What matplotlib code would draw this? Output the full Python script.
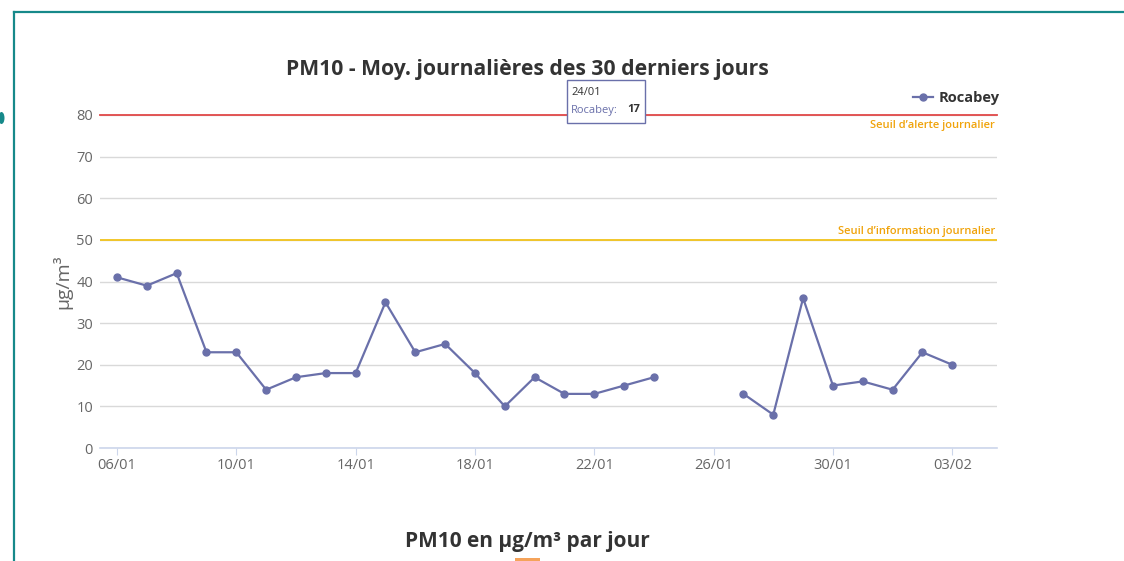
import numpy as np
import matplotlib
matplotlib.use("Agg")
import matplotlib.pyplot as plt
from matplotlib.lines import Line2D
from matplotlib.patches import Rectangle, Ellipse

# ---- data ----
dates = ["06/01", "07/01", "08/01", "09/01", "10/01", "11/01", "12/01", "13/01",
         "14/01", "15/01", "16/01", "17/01", "18/01", "19/01", "20/01", "21/01",
         "22/01", "23/01", "24/01", "25/01", "26/01", "27/01", "28/01", "29/01",
         "30/01", "31/01", "01/02", "02/02", "03/02"]
rocabey = [41, 39, 42, 23, 23, 14, 17, 18, 18, 35, 23, 25, 18, 10, 17, 13,
           13, 15, 17, np.nan, np.nan, 13, 8, 36, 15, 16, 14, 23, 20]
series_name = "Rocabey"
yticks = [0, 10, 20, 30, 40, 50, 60, 70, 80]
alert_level = 80
info_level = 50
alert_label = "Seuil d\u2019alerte journalier"
info_label = "Seuil d\u2019information journalier"
tooltip_date = "24/01"
title = "PM10 - Moy. journalières des 30 derniers jours"
ylabel = "µg/m³"
subtitle = "PM10 en µg/m³ par jour"

W, H = 1124, 561
fig = plt.figure(figsize=(W / 100, H / 100), dpi=100)
fig.patch.set_facecolor("white")

def fx(px):
    return px / W

def fy(py):
    return 1 - py / H

ax = fig.add_axes([fx(100), fy(448), fx(997) - fx(100), fy(115) - fy(448)])
x = np.arange(len(dates))
col = "#6a70aa"
ax.plot(x, rocabey, color=col, lw=1.6, marker="o", ms=5, zorder=5)

ax.set_ylim(0, 80)
ax.set_xlim(-0.57, len(dates) - 1 + 1.5)
ax.set_yticks(yticks)
ax.set_yticklabels([str(v) for v in yticks])
tick_idx = list(range(0, len(dates), 4))
ax.set_xticks(tick_idx)
ax.set_xticklabels([dates[i] for i in tick_idx])

for sp in ["top", "right", "left"]:
    ax.spines[sp].set_visible(False)
ax.spines["bottom"].set_color("#ccd6eb")
ax.spines["bottom"].set_linewidth(1.2)
ax.grid(axis="y", color="#d9d9d9", lw=1)
ax.set_axisbelow(True)
ax.tick_params(axis="y", length=0, pad=5, labelsize=10.5, labelcolor="#666666")
ax.tick_params(axis="x", length=5, color="#ccd6eb", pad=2, labelsize=10.5, labelcolor="#666666")
for lab in ax.get_xticklabels() + ax.get_yticklabels():
    lab.set_family("Open Sans")

ax.axhline(alert_level, color="#e04848", lw=1.3, zorder=3, clip_on=False)
ax.axhline(info_level, color="#f2c31b", lw=1.3, zorder=3)
ax.text(0.9975, alert_level - 1.2, alert_label, transform=ax.get_yaxis_transform(),
        ha="right", va="top", color="#f0a30a", fontsize=8.0, family="Open Sans",
        fontweight="semibold")
ax.text(0.9975, info_level + 0.8, info_label, transform=ax.get_yaxis_transform(),
        ha="right", va="bottom", color="#f0a30a", fontsize=8.0, family="Open Sans",
        fontweight="semibold")

ax.set_ylabel(ylabel, fontsize=14, color="#666666", family="Open Sans", labelpad=3)

fig.text(fx(527), fy(69), title, ha="center", va="center", fontsize=15.2,
         fontweight="bold", color="#333333", family="Open Sans")

# legend
leg = ax.legend([Line2D([0], [0], color=col, lw=1.6, marker="o", ms=5)], [series_name],
                loc="center right", bbox_to_anchor=(fx(1013), fy(98)),
                bbox_transform=fig.transFigure, frameon=False, handlelength=1.4,
                handletextpad=0.4, prop={"family": "Open Sans", "weight": "bold", "size": 10.5})
for t in leg.get_texts():
    t.set_color("#333333")

# tooltip
ti = dates.index(tooltip_date)
tv = rocabey[ti]
fig.patches.append(Rectangle((fx(567), fy(123)), fx(645) - fx(567), fy(80) - fy(123),
                             transform=fig.transFigure, facecolor="white",
                             edgecolor=col, lw=1, zorder=10))
fig.text(fx(571), fy(92), tooltip_date, ha="left", va="center", fontsize=8,
         color="#333333", family="Open Sans", zorder=11)
fig.text(fx(571), fy(110), series_name + ":", ha="left", va="center", fontsize=8,
         color=col, family="Open Sans", zorder=11)
fig.text(fx(627), fy(110), f"{tv:g}", ha="left", va="center", fontsize=8,
         color="#333333", fontweight="bold", family="Open Sans", zorder=11)

fig.text(fx(527), fy(541), subtitle, ha="center", va="center", fontsize=15,
         fontweight="bold", color="#333333", family="Open Sans")

# page decorations
teal = "#16898a"
fig.add_artist(Line2D([fx(14), fx(14)], [0, fy(12)], color=teal, lw=1.6, transform=fig.transFigure))
fig.add_artist(Line2D([fx(14), 1], [fy(12), fy(12)], color=teal, lw=1.6, transform=fig.transFigure))
fig.patches.append(Ellipse((fx(1.5), fy(118)), fx(6), fy(112) - fy(124),
                           transform=fig.transFigure, facecolor=teal, edgecolor="none"))
fig.patches.append(Rectangle((fx(515), 0), fx(25), fy(558), transform=fig.transFigure,
                             facecolor="#f5a35a", edgecolor="none"))

fig.savefig("out.png", dpi=100)
